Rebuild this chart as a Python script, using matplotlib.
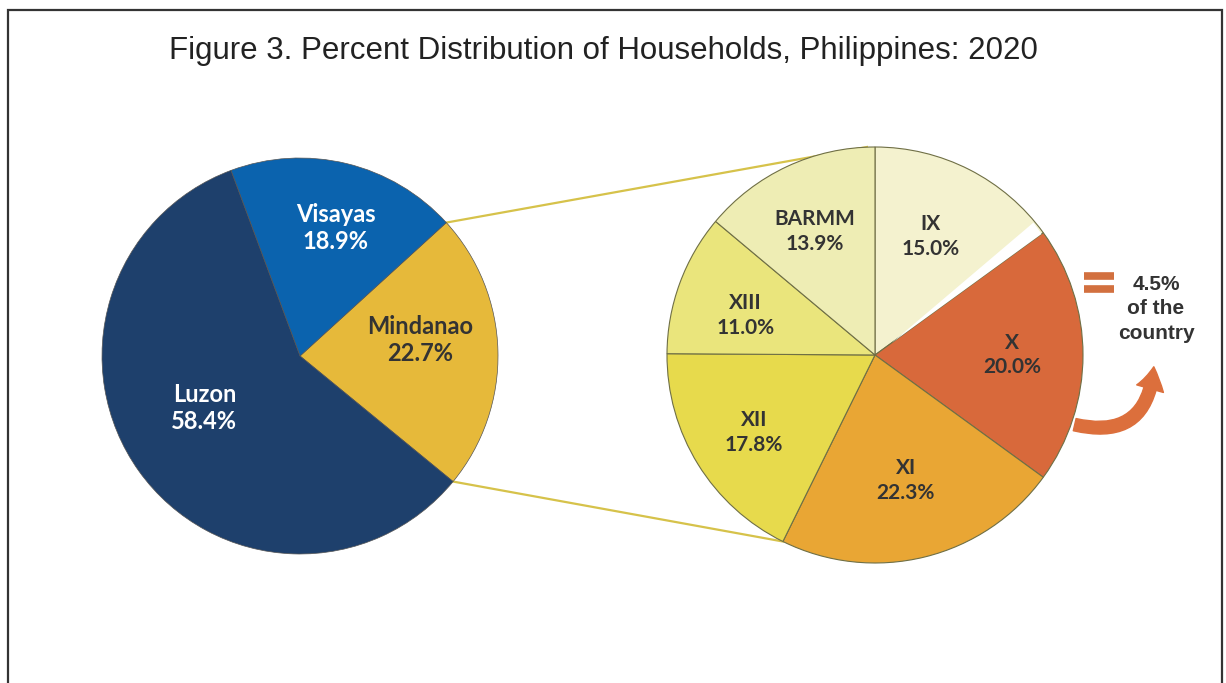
import numpy as np
import matplotlib
matplotlib.use("Agg")
import matplotlib.pyplot as plt
from matplotlib.patches import FancyArrowPatch, Rectangle, Polygon

# ---- data ----
main_labels = ["Mindanao", "Visayas", "Luzon"]
main_values = [22.7, 18.9, 58.4]
main_colors = ["#E6B93A", "#0B63AE", "#1E406C"]
main_text_colors = ["#333333", "white", "white"]

sub_labels = ["IX", "X", "XI", "XII", "XIII", "BARMM"]
sub_values = [15.0, 20.0, 22.3, 17.8, 11.0, 13.9]
sub_colors = ["#F4F2CF", "#D8693B", "#E9A634", "#E7DA4C", "#EAE57C", "#EEEDB4"]

title = "Figure 3. Percent Distribution of Households, Philippines: 2020"
note_text = "4.5%\nof the\ncountry"

W, H = 1226, 683
fig = plt.figure(figsize=(W / 100, H / 100), dpi=100)
ax = fig.add_axes([0, 0, 1, 1])

# frame
ax.add_patch(Rectangle((8, -20), 1214, H - 10 + 20, fill=False,
                       edgecolor="#333333", lw=1.6, zorder=1))

# ---- left pie ----
c1, r1 = (300, 327), 198
start1 = -main_values[0] * 3.6 / 2 + 1.5
ax.pie(main_values, colors=main_colors, startangle=start1,
       counterclock=True, center=c1, radius=r1,
       wedgeprops=dict(edgecolor="#555555", linewidth=0.5), frame=True)

# ---- right pie ----
c2, r2 = (875, 328), 208
ax.pie(sub_values, colors=sub_colors, startangle=90, counterclock=False,
       center=c2, radius=r2,
       wedgeprops=dict(edgecolor="#6f6f45", linewidth=0.8), frame=True)

ax.set_xlim(0, W)
ax.set_ylim(0, H)
ax.set_aspect("equal")
ax.axis("off")

fig.text(0.492, 1 - 51 / H, title, ha="center", va="center", fontsize=22.5,
         family=["Liberation Sans", "DejaVu Sans"], color="#222222")

lbl_font = dict(family=["Lato", "DejaVu Sans"], fontweight="bold",
                ha="center", va="center")

# left labels: (radius fraction, angle offset)
main_place = {"Mindanao": (0.61, 6), "Visayas": (0.67, -2), "Luzon": (0.55, -7)}
ang = start1
for lab, v, tc in zip(main_labels, main_values, main_text_colors):
    mid = ang + v * 3.6 / 2
    ang += v * 3.6
    fr, off = main_place[lab]
    a = np.deg2rad(mid + off)
    x, y = c1[0] + fr * r1 * np.cos(a), c1[1] + fr * r1 * np.sin(a)
    ax.text(x, y, f"{lab}\n{v:.1f}%", color=tc, fontsize=17, linespacing=1.2,
            **lbl_font)

# white highlight gap between IX and X
a_ix = np.deg2rad(90 - sub_values[0] * 3.6)
perp = a_ix + np.pi / 2
b0 = (c2[0] + 0.1 * r2 * np.cos(a_ix), c2[1] + 0.1 * r2 * np.sin(a_ix))
b1 = (c2[0] + 0.99 * r2 * np.cos(a_ix), c2[1] + 0.99 * r2 * np.sin(a_ix))
b2 = (b1[0] + 14 * np.cos(perp), b1[1] + 14 * np.sin(perp))
ax.add_patch(Polygon([b0, b1, b2], closed=True, facecolor="white",
                     edgecolor="none", zorder=5))

sub_place = {"IX": (0.63, 2), "X": (0.66, 0), "XI": (0.62, 0),
             "XII": (0.69, 1), "XIII": (0.65, 3), "BARMM": (0.66, 1)}
ang = 90
for lab, v in zip(sub_labels, sub_values):
    mid = ang - v * 3.6 / 2
    ang -= v * 3.6
    fr, off = sub_place[lab]
    a = np.deg2rad(mid + off)
    x, y = c2[0] + fr * r2 * np.cos(a), c2[1] + fr * r2 * np.sin(a)
    ax.text(x, y, f"{lab}\n{v:.1f}%", color="#333333", zorder=6,
            fontsize=15, linespacing=1.3, **lbl_font)

# ---- connector lines ----
a_top1 = np.deg2rad(start1 + main_values[0] * 3.6)
a_bot1 = np.deg2rad(start1)
p1 = (c1[0] + r1 * np.cos(a_top1), c1[1] + r1 * np.sin(a_top1))
p2 = (c1[0] + r1 * np.cos(a_bot1), c1[1] + r1 * np.sin(a_bot1))
q1 = (c2[0] - 8, c2[1] + r2)
a_b2 = np.deg2rad(90 - sum(sub_values[:3]) * 3.6)
q2 = (c2[0] + r2 * np.cos(a_b2), c2[1] + r2 * np.sin(a_b2))
for p, q in [(p1, q1), (p2, q2)]:
    ax.plot([p[0], q[0]], [p[1], q[1]], color="#D6C24A", lw=1.6, zorder=0.5)

# ---- side note ----
for yy in (H - 276, H - 289):
    ax.plot([1084, 1114], [yy, yy], color="#D2703F", lw=5.5, solid_capstyle="butt")
ax.text(1156, H - 309, note_text, ha="center", va="center", fontsize=15,
        fontweight="bold", family=["Liberation Sans", "DejaVu Sans"],
        color="#333333", linespacing=1.38)
arrow = FancyArrowPatch((1072, H - 424), (1154, H - 364),
                        connectionstyle="arc3,rad=0.6",
                        arrowstyle="simple,head_width=20,head_length=16,tail_width=9",
                        color="#DC6F3C", zorder=7)
ax.add_patch(arrow)

fig.savefig("out.png", dpi=100, facecolor="white")
